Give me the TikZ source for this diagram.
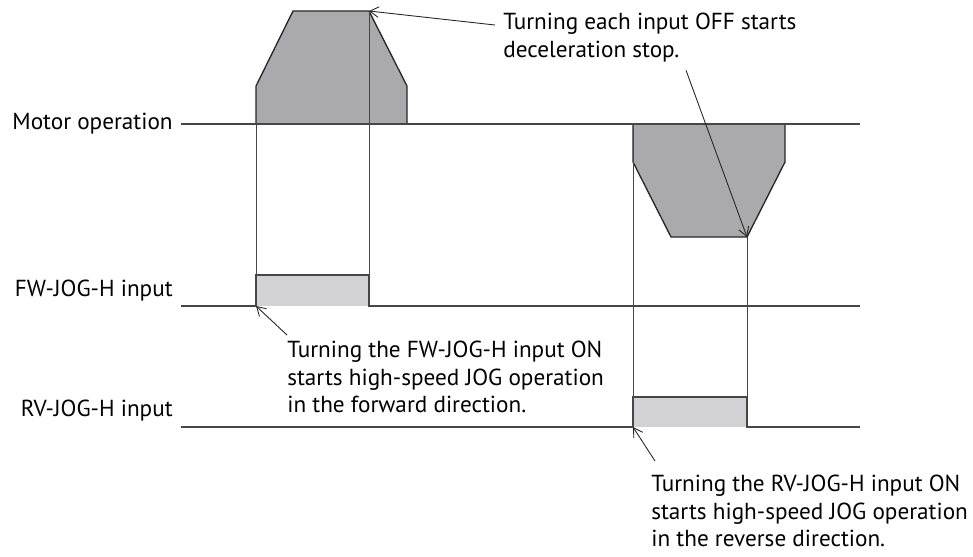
\documentclass[tikz,border=0pt]{standalone}
\usepackage{fontspec}
\setmainfont{PT Sans}
\usepackage{tikz}
\usetikzlibrary{arrows.meta}

\definecolor{profgray}{RGB}{170,170,173}
\definecolor{boxgray}{RGB}{210,210,212}
\definecolor{linegray}{RGB}{70,70,70}

\tikzset{
  lbl/.style={inner sep=0pt, anchor=east},
  note/.style={inner sep=0pt, anchor=north west, align=left},
  signal/.style={draw=linegray, line width=0.75pt},
  guide/.style={draw=linegray, line width=0.5pt},
  profile/.style={fill=profgray, draw=black!85, line width=0.75pt},
  onbox/.style={fill=boxgray},
  callout/.style={->, draw=black!85, line width=0.5pt}
}

\begin{document}
\begin{tikzpicture}[x=0.02cm, y=-0.02cm, >={Straight Barb[length=5pt,width=6pt]},
    font=\fontsize{13.2}{15.6}\selectfont]
  \useasboundingbox (0,0) rectangle (973,556);

  % labels on the left
  \node[lbl] (motorlbl) at (173,124) {Motor operation};
  \node[lbl] (fwlbl) at (173,291) {FW-JOG-H input};
  \node[lbl] (rvlbl) at (173,411) {RV-JOG-H input};

  % speed profiles
  \draw[profile] (256,124) -- (256,86) -- (293,11) -- (369,11) -- (407,86) -- (407,124);
  \draw[profile] (633,124) -- (633,162) -- (671,237) -- (747,237) -- (785,162) -- (785,124);

  % ON periods
  \fill[onbox] (256,275) rectangle (369,306);
  \fill[onbox] (633,397) rectangle (747,427);

  % guides
  \draw[guide] (256,124) -- (256,275);
  \draw[guide] (369,11) -- (369,275);
  \draw[guide] (633,124) -- (633,397);
  \draw[guide] (747,237) -- (747,397);

  % signal lines
  \draw[signal] (motorlbl.east) ++(8,0) -- (860,124);
  \draw[signal] (fwlbl.east) ++(8,15) -- (256,306) -- (256,275) -- (369,275) -- (369,306) -- (860,306);
  \draw[signal] (rvlbl.east) ++(8,16) -- (633,427) -- (633,397) -- (747,397) -- (747,427) -- (860,427);

  % notes
  \node[note] (offnote) at (503,13) {Turning each input OFF starts\\deceleration stop.};
  \node[note] (fwnote) at (287,341) {Turning the FW-JOG-H input ON\\starts high-speed JOG operation\\in the forward direction.};
  \node[note] (rvnote) at (651,475) {Turning the RV-JOG-H input ON\\starts high-speed JOG operation\\in the reverse direction.};

  \draw[callout] ([shift={(-8,12)}]offnote.north west) -- (369,11);
  \draw[callout] ([shift={(183,8)}]offnote.south west) -- (747,237);
  \draw[callout] ([shift={(0,-6)}]fwnote.north west) -- (256,306);
  \draw[callout] ([shift={(4,-14)}]rvnote.north west) -- (633,427);
\end{tikzpicture}
\end{document}
